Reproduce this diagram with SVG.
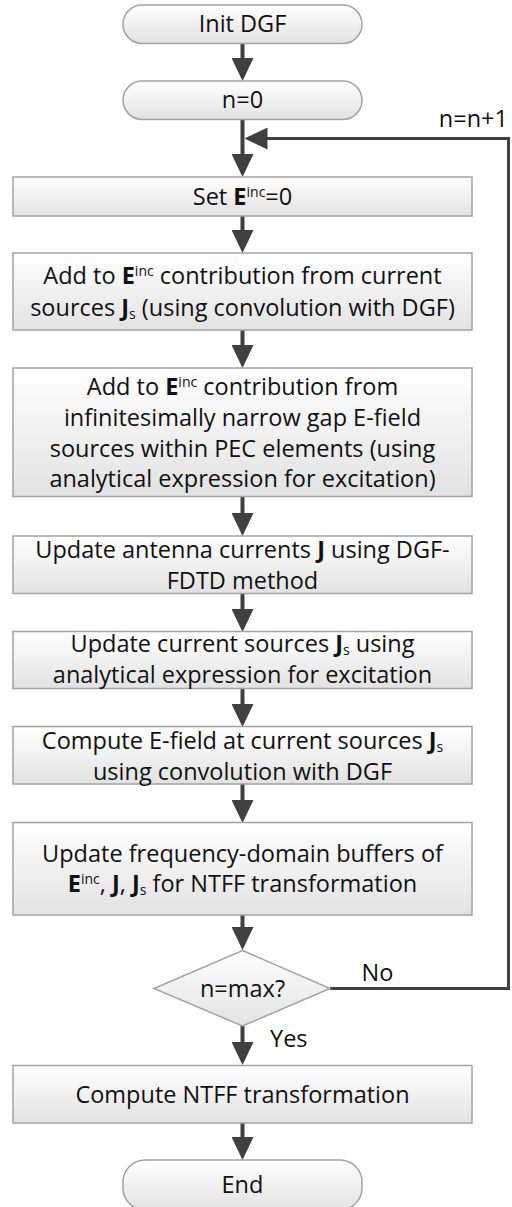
<svg xmlns="http://www.w3.org/2000/svg" width="512" height="1207" viewBox="0 0 512 1207">
<defs>
<linearGradient id="g" x1="0" y1="0" x2="0" y2="1">
<stop offset="0" stop-color="#ffffff"/>
<stop offset="1" stop-color="#e2e2e2"/>
</linearGradient>
<marker id="ah" markerUnits="userSpaceOnUse" viewBox="0 0 23 22" refX="13" refY="11" markerWidth="23" markerHeight="22" orient="auto">
<path d="M0,0 L23,11 L0,22 Z" fill="#404040"/>
</marker>
</defs>
<style>
.box{fill:url(#g);stroke:#a3a3a3;stroke-width:1.5}
.t{font-family:"Open Sans","Liberation Sans",sans-serif;font-size:23.5px;fill:#111;text-anchor:middle}
.l{font-family:"Open Sans","Liberation Sans",sans-serif;font-size:23.5px;fill:#111}
.b{font-weight:bold}
.sup{font-size:14px}
.sub{font-size:14px}
.arr{stroke:#404040;stroke-width:4;fill:none;marker-end:url(#ah)}
.loop{stroke:#404040;stroke-width:3;fill:none;marker-end:url(#ah)}
</style>
<g id="connectors">
<line class="arr" x1="242.5" y1="43" x2="242.5" y2="71"/>
<line class="arr" x1="242.5" y1="119" x2="242.5" y2="167"/>
<line class="arr" x1="242.5" y1="216" x2="242.5" y2="243"/>
<line class="arr" x1="242.5" y1="330" x2="242.5" y2="358"/>
<line class="arr" x1="242.5" y1="497" x2="242.5" y2="526"/>
<line class="arr" x1="242.5" y1="593" x2="242.5" y2="622"/>
<line class="arr" x1="242.5" y1="688" x2="242.5" y2="717"/>
<line class="arr" x1="242.5" y1="784" x2="242.5" y2="813"/>
<line class="arr" x1="242.5" y1="915" x2="242.5" y2="940"/>
<line class="arr" x1="242.5" y1="1026" x2="242.5" y2="1055"/>
<line class="arr" x1="242.5" y1="1123" x2="242.5" y2="1150"/>
<path class="loop" d="M330,988.5 H508.5 V138.5 H254.5"/>
<text class="l" x="361.5" y="980.5">No</text>
<text class="l" x="270" y="1046.5">Yes</text>
<text class="l" x="508" y="126.5" text-anchor="end">n=n+1</text>
</g>
<g id="init">
<rect class="box" x="123" y="5" width="239" height="38.5" rx="19.25"/>
<text class="t" x="242.5" y="32">Init DGF</text>
</g>
<g id="n0">
<rect class="box" x="123" y="81" width="239" height="38.5" rx="19.25"/>
<text class="t" x="242.5" y="108">n=0</text>
</g>
<g id="setE">
<rect class="box" x="13" y="177" width="459" height="39"/>
<text class="t" x="242.5" y="204.5">Set <tspan class="b">E</tspan><tspan class="sup" dy="-8">inc</tspan><tspan dy="8">=0</tspan></text>
</g>
<g id="addJs">
<rect class="box" x="13" y="253" width="459" height="77"/>
<text class="t" x="242.5" y="284">Add to <tspan class="b">E</tspan><tspan class="sup" dy="-8">inc</tspan><tspan dy="8"> contribution from current</tspan></text>
<text class="t" x="242.5" y="316">sources <tspan class="b">J</tspan><tspan class="sub" dy="3">s</tspan><tspan dy="-3"> (using convolution with DGF)</tspan></text>
</g>
<g id="addGap">
<rect class="box" x="13" y="368" width="459" height="128.5"/>
<text class="t" x="242.5" y="394.5">Add to <tspan class="b">E</tspan><tspan class="sup" dy="-8">inc</tspan><tspan dy="8"> contribution from</tspan></text>
<text class="t" x="242.5" y="425.5">infinitesimally narrow gap E-field</text>
<text class="t" x="242.5" y="456.5">sources within PEC elements (using</text>
<text class="t" x="242.5" y="487">analytical expression for excitation)</text>
</g>
<g id="updJ">
<rect class="box" x="13" y="536" width="459" height="57.5"/>
<text class="t" x="242.5" y="557.5">Update antenna currents <tspan class="b">J</tspan> using DGF-</text>
<text class="t" x="242.5" y="588.5">FDTD method</text>
</g>
<g id="updJs">
<rect class="box" x="13" y="631.5" width="459" height="57"/>
<text class="t" x="242.5" y="652">Update current sources <tspan class="b">J</tspan><tspan class="sub" dy="3">s</tspan><tspan dy="-3"> using</tspan></text>
<text class="t" x="242.5" y="683">analytical expression for excitation</text>
</g>
<g id="compE">
<rect class="box" x="13" y="726.5" width="459" height="57.5"/>
<text class="t" x="242.5" y="749">Compute E-field at current sources <tspan class="b">J</tspan><tspan class="sub" dy="3">s</tspan></text>
<text class="t" x="242.5" y="779.5">using convolution with DGF</text>
</g>
<g id="updBuf">
<rect class="box" x="13" y="822.5" width="459" height="92.5"/>
<text class="t" x="242.5" y="861.5">Update frequency-domain buffers of</text>
<text class="t" x="242.5" y="892"><tspan class="b">E</tspan><tspan class="sup" dy="-8">inc</tspan><tspan dy="8">, </tspan><tspan class="b">J</tspan>, <tspan class="b">J</tspan><tspan class="sub" dy="3">s</tspan><tspan dy="-3"> for NTFF transformation</tspan></text>
</g>
<g id="decision">
<polygon class="box" points="242.5,950.5 330,988.5 242.5,1026 154,988.5"/>
<text class="t" x="242.5" y="996.5">n=max?</text>
</g>
<g id="ntff">
<rect class="box" x="13" y="1065.5" width="459" height="57.5"/>
<text class="t" x="242.5" y="1102.5">Compute NTFF transformation</text>
</g>
<g id="end">
<rect class="box" x="123" y="1160" width="239" height="50" rx="22"/>
<text class="t" x="242.5" y="1193">End</text>
</g>
</svg>
